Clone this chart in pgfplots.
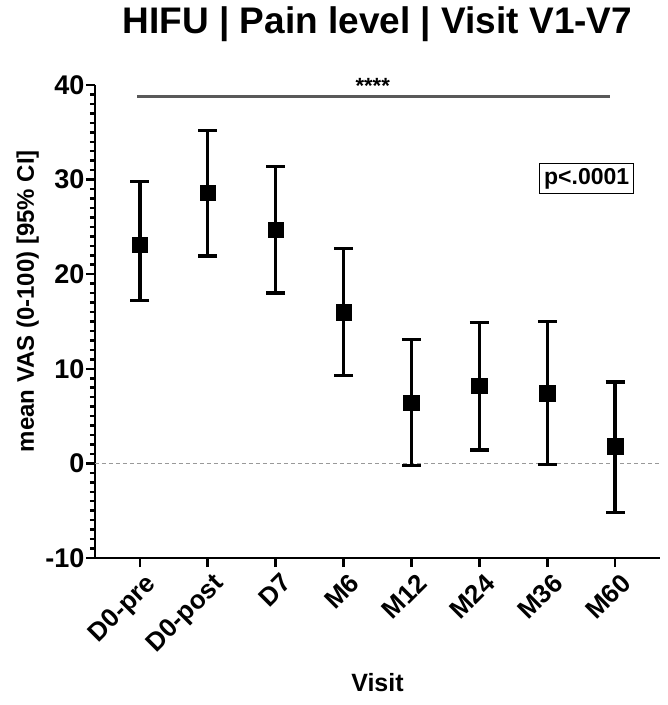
\documentclass[border=0pt]{standalone}
\usepackage{fontspec}
\setmainfont{Liberation Sans}
\usepackage{pgfplots}
\usepackage{pgfplotstable}
\pgfplotsset{compat=1.18}

% visit index, mean VAS, lower / upper 95% CI
\pgfplotstableread{
x mean lo hi
0 23.1 17.2 29.8
1 28.6 21.9 35.2
2 24.7 18.0 31.4
3 16.0 9.3 22.7
4 6.4 -0.2 13.1
5 8.2 1.4 14.9
6 7.4 -0.1 15.0
7 1.8 -5.2 8.6
}\vasdata

\begin{document}
\begin{tikzpicture}
\useasboundingbox (-95pt,-147pt) rectangle (573pt,558pt);
\begin{axis}[
    at={(0,0)}, anchor=south west,
    width=565pt, height=473pt, scale only axis,
    xmin=-0.66, xmax=7.66, ymin=-10, ymax=40,
    clip=false,
    axis x line*=bottom, axis y line*=left,
    axis line style={line width=2.5pt, black},
    xtick={0,...,7},
    xticklabels={D0-pre,D0-post,D7,M6,M12,M24,M36,M60},
    ytick={-10,0,10,20,30,40},
    minor y tick num=9,
    tick align=outside,
    major tick length=9pt, minor tick length=5pt,
    every tick/.style={line width=2.5pt, black},
    /pgf/number format/assume math mode=true,
    yticklabel style={font=\bfseries\fontsize{27}{27}\selectfont, xshift=2pt},
    x tick label style={rotate=45, anchor=north east, xshift=3pt, yshift=-3pt,
        font=\bfseries\fontsize{26}{26}\selectfont},
    title={HIFU | Pain level | Visit V1-V7},
    title style={at={(rel axis cs:0.5,1.116)}, anchor=center,
        font=\bfseries\fontsize{37}{37}\selectfont},
    xlabel={Visit},
    xlabel style={at={(rel axis cs:0.5,-0.264)}, anchor=center,
        font=\bfseries\fontsize{25}{25}\selectfont},
    ylabel={mean VAS (0-100) [95\% CI]},
    ylabel style={at={(rel axis cs:-0.119,0.543)}, anchor=center,
        font=\bfseries\fontsize{24}{24}\selectfont},
]
% zero reference line
\addplot[gray!80, dashed, line width=1pt, dash pattern=on 4pt off 3pt]
    coordinates {(-0.66,0) (7.66,0)};
% significance bar
\addplot[black!65, line width=3pt] coordinates {(-0.04,38.8) (6.92,38.8)};
\node[font=\bfseries\fontsize{22}{22}\selectfont] at (axis cs:3.43,39.9) {****};
\node[draw, line width=1.5pt, inner sep=4.5pt,
      font=\bfseries\fontsize{23}{23}\selectfont] at (axis cs:6.58,30.1) {p<.0001};
% means with confidence intervals
\addplot[only marks, mark=square*, mark size=7.8pt, black,
    error bars/.cd, y dir=both, y explicit,
    error bar style={line width=3.5pt, black},
    error mark options={rotate=90, line width=3.5pt, mark size=9.5pt, black}]
    table[x=x, y=mean,
          y error plus expr=\thisrow{hi}-\thisrow{mean},
          y error minus expr=\thisrow{mean}-\thisrow{lo}] {\vasdata};
\end{axis}
\end{tikzpicture}
\end{document}
